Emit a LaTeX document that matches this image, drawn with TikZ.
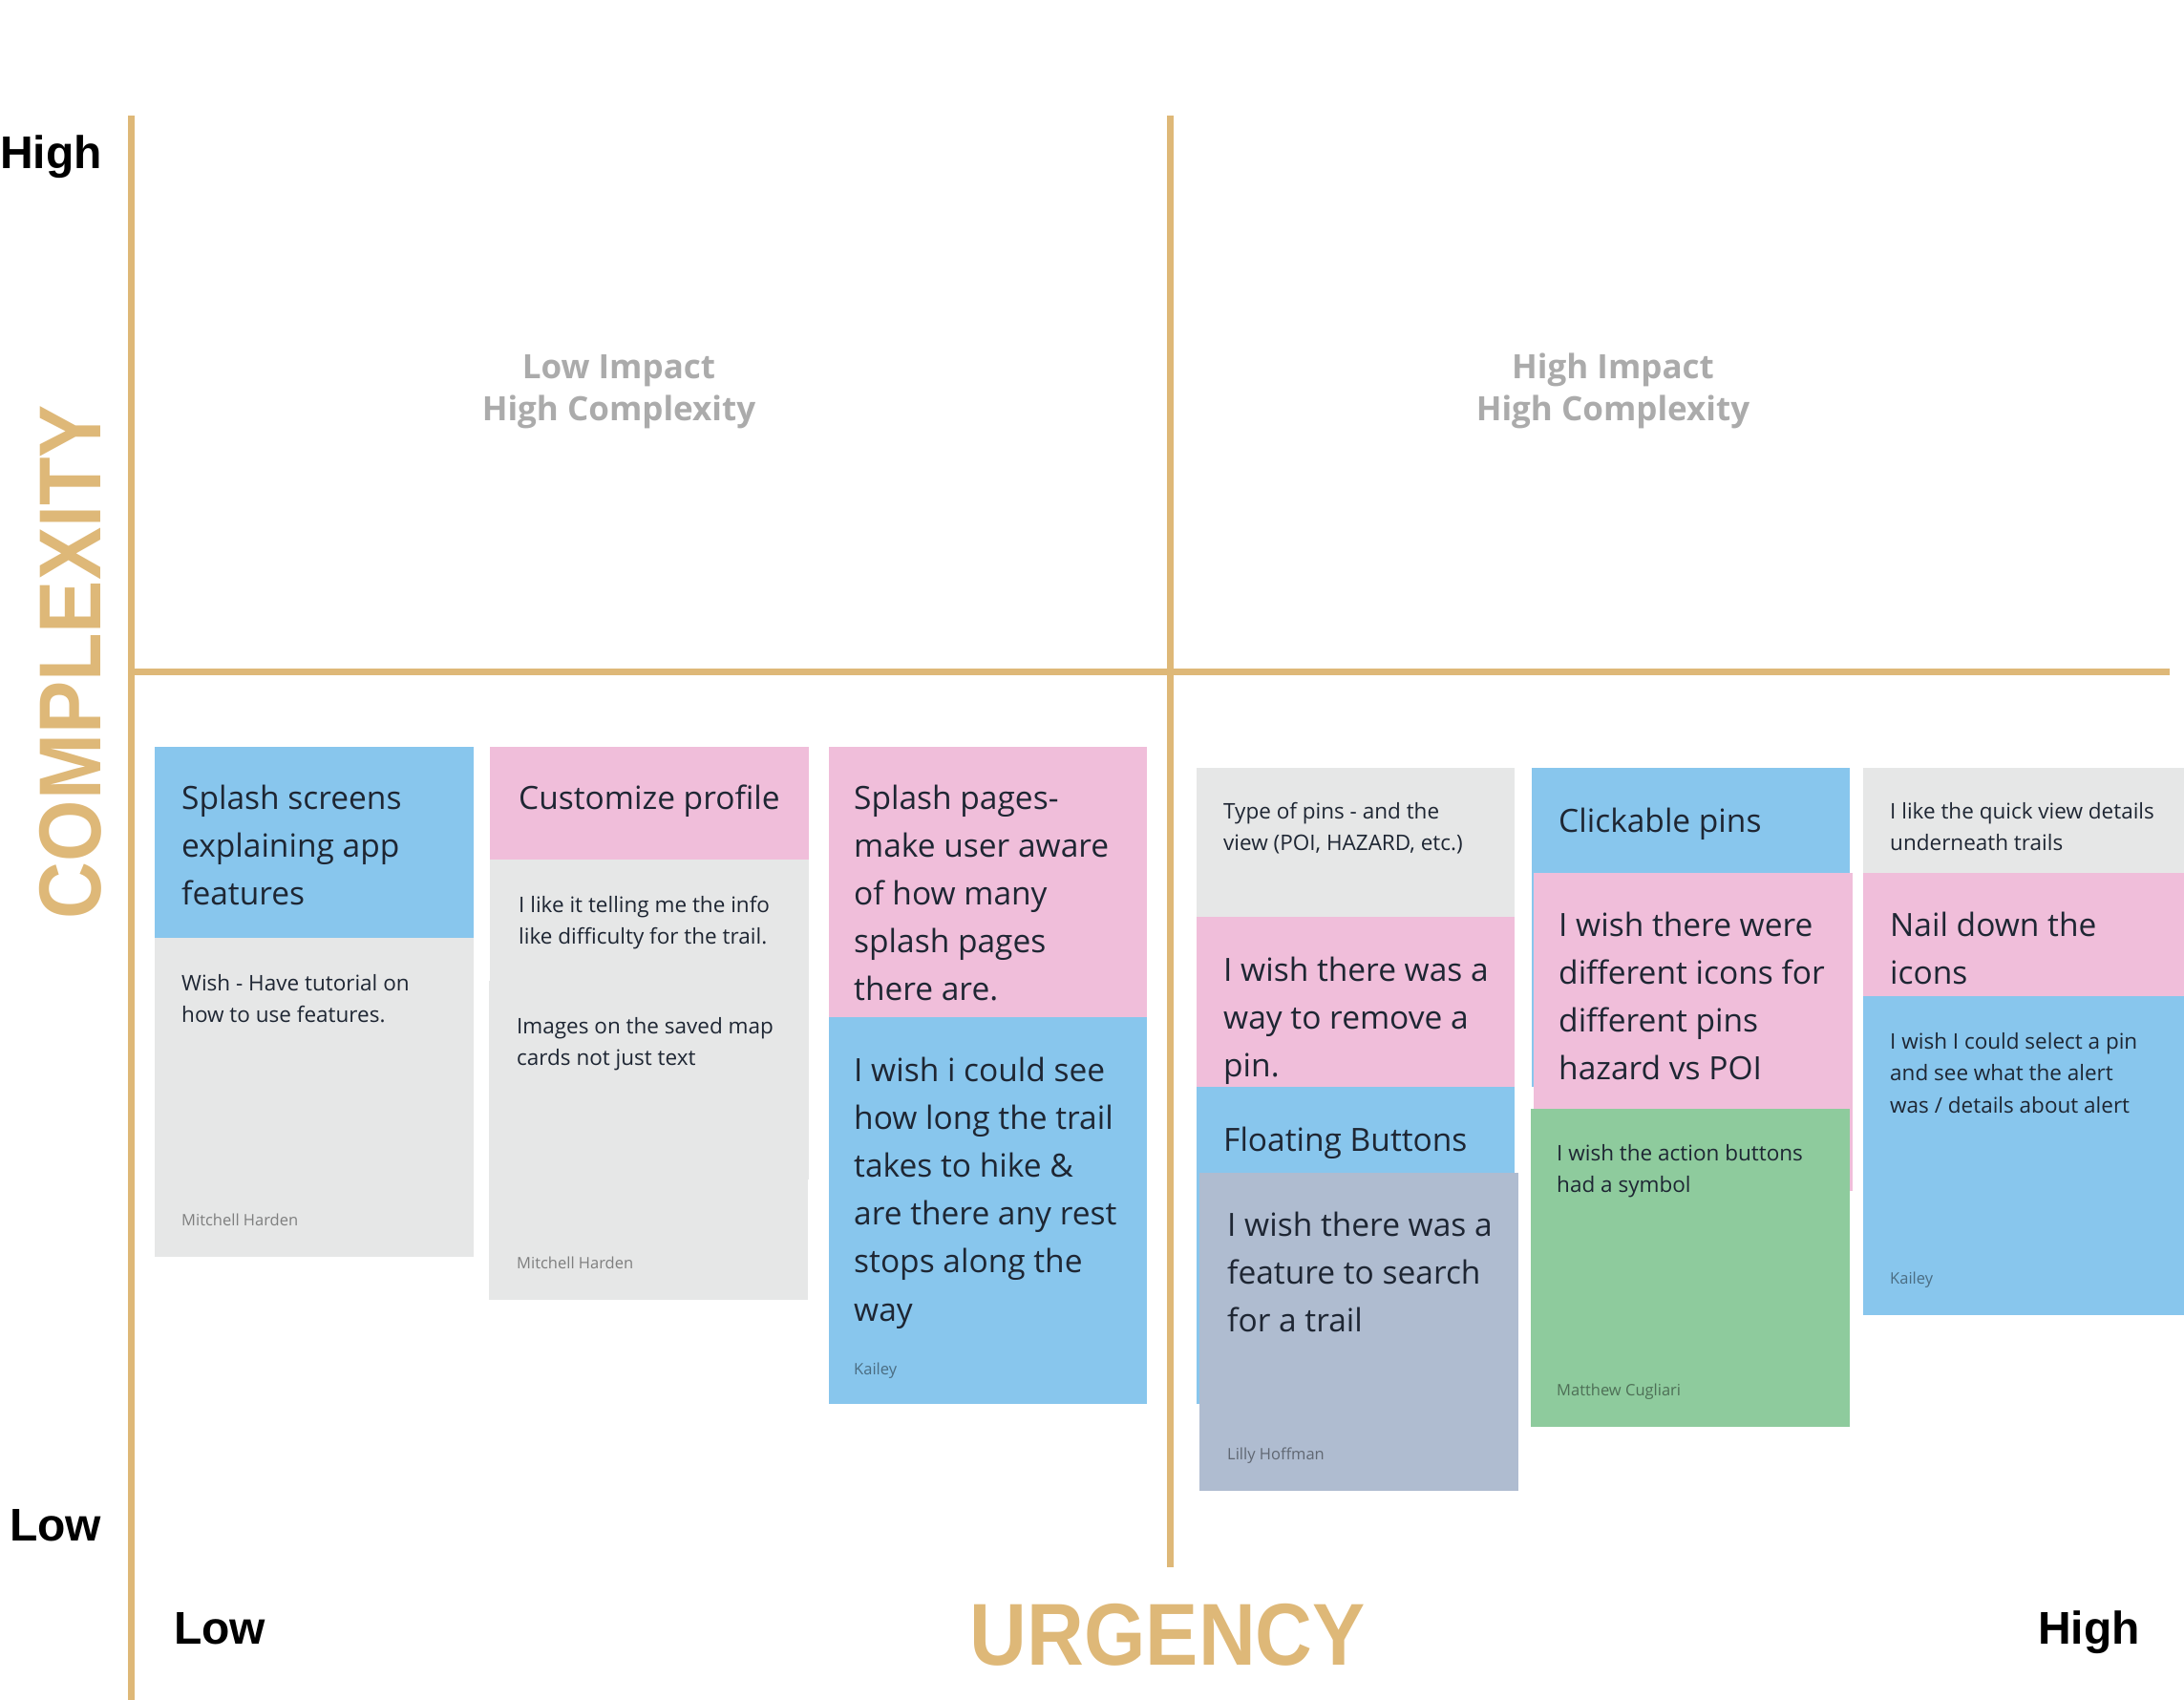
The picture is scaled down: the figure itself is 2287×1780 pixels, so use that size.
\documentclass[tikz,border=0pt]{standalone}
\usepackage{fontspec}
\usepackage{graphicx}
\setmainfont{Open Sans}
\newfontfamily\axisfont{Liberation Sans}
\definecolor{tan}{HTML}{DEB878}
\definecolor{cblue}{HTML}{88C6ED}
\definecolor{cpink}{HTML}{F0BEDA}
\definecolor{cgray}{HTML}{E6E7E7}
\definecolor{cgreen}{HTML}{8ECB9D}
\definecolor{cslate}{HTML}{AFBCD0}
\definecolor{txt}{HTML}{1E2633}
\definecolor{qgray}{HTML}{ABABAB}
\tikzset{
  axisline/.style={draw=tan, line width=7pt},
  cardbox/.style={anchor=north west, inner sep=0, outer sep=0, draw=none},
  bigtxt/.style={anchor=base west, inner sep=0, yshift=-3pt, align=left, text=txt, font=\fontsize{33.5}{50.2}\selectfont},
  smalltxt/.style={anchor=base west, inner sep=0, yshift=-3pt, align=left, text=txt, font=\fontsize{22.5}{33.5}\selectfont},
  author/.style={anchor=base west, inner sep=0, yshift=-2pt, text=black, text opacity=0.45, font=\fontsize{16.5}{20}\selectfont},
  axlabel/.style={inner sep=0, text=black, font=\axisfont\bfseries\fontsize{48}{56}\selectfont},
  bigaxis/.style={inner sep=0, text=tan, font=\axisfont\bfseries\fontsize{92}{100}\selectfont},
  quad/.style={inner sep=0, align=center, text=qgray, font=\bfseries\fontsize{35}{44}\selectfont},
}
\newcommand{\card}[6]{\node[cardbox, fill=#6, minimum width=#4pt, minimum height=#5pt] (#1) at (#2,#3) {};}
\begin{document}
\begin{tikzpicture}[x=1pt,y=-1pt]
\useasboundingbox (0,0) rectangle (2287,1780);
% axes
\coordinate (vtop) at (137,121);
\coordinate (vbot) at (137,1780);
\coordinate (mtop) at (1225,121);
\coordinate (mbot) at (1225,1641);
\coordinate (hl) at (140,703);
\coordinate (hr) at (2272,703);
\draw[axisline] (vtop) -- (vbot);
\draw[axisline] (mtop) -- (mbot);
\draw[axisline] (hl) -- (hr);
% axis labels
\node[axlabel, anchor=base west] (hiY) at (0,176) {High};
\node[axlabel, anchor=base west] (loY) at (10,1613) {Low};
\node[axlabel, anchor=base west] (loX) at (182,1721) {Low};
\node[axlabel, anchor=base west] (hiX) at (2134,1721) {High};
\node[bigaxis, anchor=base] (urg) at (1223,1743) {\scalebox{0.9}[1]{URGENCY}};
\node[bigaxis, anchor=base, rotate=90] (cplx) at (105,693) {\scalebox{0.9}[1]{COMPLEXITY}};
% quadrant titles (base = last line)
\node[quad, anchor=base] (q1) at (648,440) {Low Impact\\High Complexity};
\node[quad, anchor=base] (q2) at (1689,440) {High Impact\\High Complexity};
% column 1
\card{c1a}{162}{782}{334}{200}{cblue}
\card{c1b}{162}{982}{334}{334}{cgray}
\node[bigtxt] (t1a) at (190,944.4) {Splash screens\\explaining app\\features};
\node[smalltxt] (t1b) at (190,1067.5) {Wish - Have tutorial on\\how to use features.};
\node[author] (a1) at (190,1281) {Mitchell Harden};
% column 2
\card{c2a}{513}{782}{334}{118}{cpink}
\card{c2b}{513}{900}{334}{335}{cgray}
\card{c2c}{512}{1027}{334}{334}{cgray}
\node[bigtxt] (t2a) at (543,844) {Customize profile};
\node[smalltxt] (t2b) at (543,985.5) {I like it telling me the info\\like difficulty for the trail.};
\node[smalltxt] (t2c) at (541,1112.5) {Images on the saved map\\cards not just text};
\node[author] (a2) at (541,1326) {Mitchell Harden};
% column 3
\card{c3a}{868}{782}{333}{283}{cpink}
\card{c3b}{868}{1065}{333}{405}{cblue}
\node[bigtxt] (t3a) at (894,1044.8) {Splash pages-\\make user aware\\of how many\\splash pages\\there are.};
\node[bigtxt] (t3b) at (894,1380) {I wish i could see\\how long the trail\\takes to hike \&\\are there any rest\\stops along the\\way};
\node[author] (a3) at (894,1437) {Kailey};
% column 4
\card{c4a}{1253}{804}{333}{156}{cgray}
\card{c4b}{1253}{960}{333}{178}{cpink}
\card{c4c}{1253}{1138}{333}{332}{cblue}
\card{c4d}{1256}{1228}{334}{333}{cslate}
\node[smalltxt] (t4a) at (1281,887.5) {Type of pins - and the\\view (POI, HAZARD, etc.)};
\node[bigtxt] (t4b) at (1281,1124.4) {I wish there was a\\way to remove a\\pin.};
\node[bigtxt] (t4c) at (1281,1202) {Floating Buttons};
\node[bigtxt] (t4d) at (1285,1391.4) {I wish there was a\\feature to search\\for a trail};
\node[author] (a4) at (1285,1526) {Lilly Hoffman};
% column 5
\card{c5a}{1604}{804}{333}{334}{cblue}
\card{c5b}{1606}{914}{334}{333}{cpink}
\card{c5c}{1603}{1161}{334}{333}{cgreen}
\node[bigtxt] (t5a) at (1632,868) {Clickable pins};
\node[bigtxt] (t5b) at (1632,1127.6) {I wish there were\\different icons for\\different pins\\hazard vs POI};
\node[smalltxt] (t5c) at (1630,1245.5) {I wish the action buttons\\had a symbol};
\node[author] (a5) at (1630,1459) {Matthew Cugliari};
% column 6
\card{c6a}{1951}{804}{336}{110}{cgray}
\card{c6b}{1951}{914}{336}{129}{cpink}
\card{c6c}{1951}{1043}{336}{334}{cblue}
\node[smalltxt] (t6a) at (1979,887.5) {I like the quick view details\\underneath trails};
\node[bigtxt] (t6b) at (1979,1027.2) {Nail down the\\icons};
\node[smalltxt] (t6c) at (1979,1162) {I wish I could select a pin\\and see what the alert\\was / details about alert};
\node[author] (a6) at (1979,1342) {Kailey};
\end{tikzpicture}
\end{document}
